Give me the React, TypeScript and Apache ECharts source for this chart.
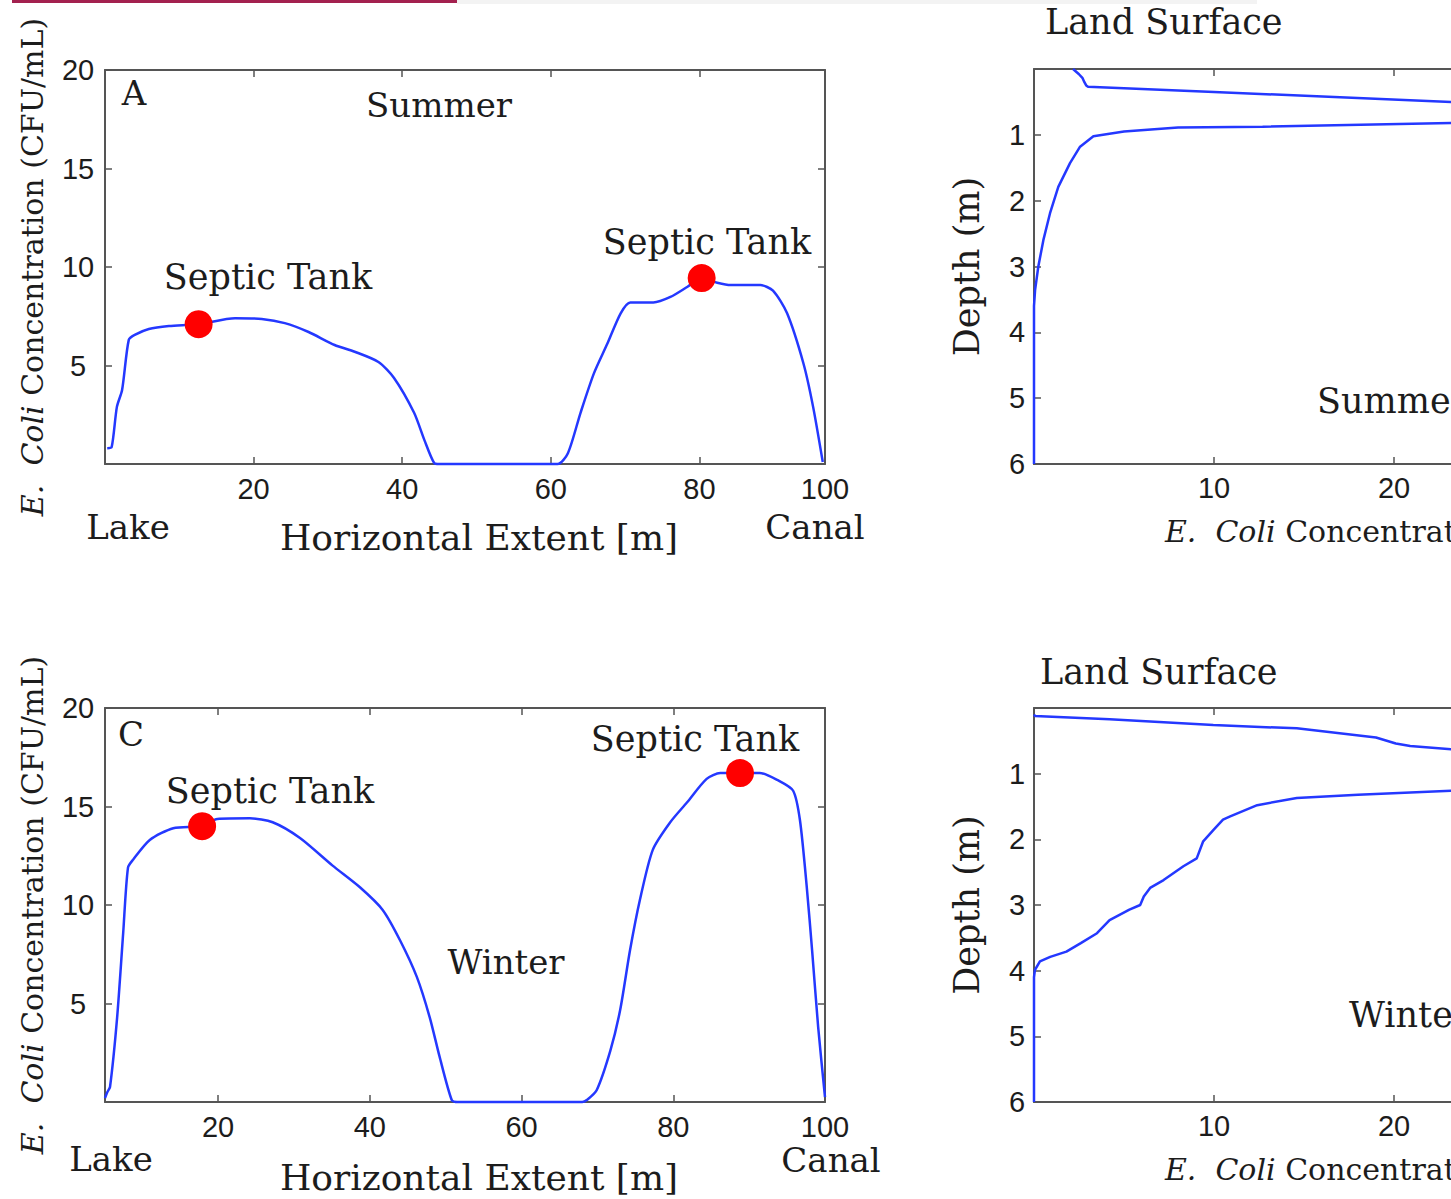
import React, { useEffect, useRef } from 'react';
import * as echarts from 'echarts';

// ---------- data ----------
// Panel A: summer, concentration along horizontal extent [x (m), CFU/mL]
const summerProfile: [number, number][] = [
  [0.3, 0.8], [0.9, 0.86], [1.6, 2.9], [2.3, 3.76], [3.2, 6.3], [4.0, 6.55], [5.9, 6.85],
  [8.6, 7.0], [12.6, 7.1], [17.5, 7.4], [21.1, 7.36], [24.2, 7.15], [27.4, 6.7], [30.9, 6.04],
  [33.6, 5.7], [36.8, 5.18], [38.9, 4.37], [41.6, 2.6], [43.0, 1.2], [44.3, 0.05], [45.0, 0],
  [60.9, 0], [62.3, 0.55], [64.0, 2.6], [65.8, 4.6], [67.6, 6.1], [69.4, 7.65], [70.7, 8.2],
  [73.8, 8.2], [76.1, 8.48], [78.4, 9.0], [80.3, 9.44], [82.4, 9.2], [84.2, 9.08], [88.2, 9.08],
  [89.9, 8.8], [91.8, 7.65], [94.0, 5.1], [95.3, 2.9], [96.6, 0.1],
];
const summerTanks: [number, number][] = [[12.6, 7.1], [80.3, 9.44]];

// Panel C: winter
const winterProfile: [number, number][] = [
  [5.1, 0.2], [5.4, 0.5], [5.76, 0.76], [6.7, 4.3], [7.5, 8.6], [8.13, 11.9], [8.8, 12.3],
  [11.0, 13.3], [14.1, 13.9], [17.9, 14.0], [19.9, 14.37], [24.2, 14.4], [27.2, 14.2],
  [30.8, 13.4], [35.1, 12.0], [38.7, 10.9], [41.7, 9.75], [44.0, 8.2], [46.2, 6.35], [47.9, 4.3],
  [49.2, 2.3], [50.8, 0.1], [51.5, 0], [68.0, 0], [68.6, 0.1], [69.9, 0.6], [71.7, 2.6],
  [73.0, 4.67], [74.3, 7.7], [75.6, 10.25], [77.3, 12.8], [79.6, 14.2], [81.8, 15.2],
  [84.4, 16.4], [86.2, 16.7], [88.8, 16.7], [91.4, 16.7], [93.7, 16.35], [95.8, 15.8],
  [96.7, 14.3], [97.6, 10.9], [98.3, 7.7], [99.1, 3.8], [100, 0.25],
];
const winterTanks: [number, number][] = [[17.9, 14.0], [88.8, 16.7]];

// Panels B / D: depth profiles [concentration, depth (m)]
const summerDepth: [number, number][] = [
  [2.17, 0], [2.5, 0.08], [2.7, 0.14], [2.8, 0.2], [2.9, 0.25], [3.0, 0.27], [10, 0.35],
  [23.2, 0.5], [30, 0.58], [34, 0.66], [30, 0.78], [23.2, 0.82], [12.7, 0.877], [8.0, 0.89],
  [5.0, 0.95], [3.3, 1.02], [2.56, 1.18], [2.0, 1.43], [1.35, 1.79], [0.89, 2.19], [0.52, 2.6],
  [0.24, 3.0], [0.06, 3.36], [0, 3.6], [0, 6],
];
const winterDepth: [number, number][] = [
  [0, 0.1], [0.05, 0.12], [4.2, 0.17], [9.96, 0.26], [14.6, 0.31], [19.0, 0.45], [20.1, 0.54],
  [20.9, 0.58], [23.2, 0.63], [30, 0.8], [36, 1.0], [30, 1.18], [23.2, 1.26], [18, 1.32],
  [14.6, 1.37], [12.4, 1.48], [10.9, 1.65], [10.5, 1.7], [9.96, 1.86], [9.4, 2.03], [9.04, 2.29],
  [8.3, 2.41], [7.2, 2.62], [6.45, 2.74], [6.1, 2.87], [5.9, 3.0], [5.3, 3.07], [4.2, 3.23],
  [3.5, 3.43], [2.6, 3.58], [1.8, 3.71], [0.9, 3.79], [0.33, 3.86], [0.05, 3.99], [0, 4.1], [0, 6],
];

// tick values / labels
const xTicksA = [20, 40, 60, 80, 96.9];
const xLabelsA = ['20', '40', '60', '80', '100'];
const xTicksC = [20, 40, 60, 80, 100];
const xLabelsC = ['20', '40', '60', '80', '100'];

// ---------- styles ----------
const SANS = '"Liberation Sans", Arial, Helvetica, sans-serif';
const SERIF = '"DejaVu Serif", serif';
const AXIS = '#555555';
const INK = '#1c1c1c';
const BLUE = '#2438ff';
const RED = '#ff0000';

const axisLine = { show: true, onZero: false, lineStyle: { color: AXIS, width: 2 } };
const tickStyle = { color: AXIS, width: 1.5 };
const tickLabel = { fontFamily: SANS, fontSize: 29, color: INK };
const richName = {
  fontFamily: SERIF,
  fontSize: 30,
  color: INK,
  rich: { i: { fontFamily: SERIF, fontSize: 30, fontStyle: 'italic', color: INK } },
};

function horizX(grid: number, min: number, max: number, ticks: number[], labels: string[], gap: number) {
  return [
    {
      type: 'value', gridIndex: grid, position: 'bottom', min, max,
      axisLine, splitLine: { show: false },
      axisTick: { show: true, inside: true, length: 7, customValues: ticks, lineStyle: tickStyle },
      axisLabel: {
        ...tickLabel, margin: 10, customValues: ticks,
        formatter: (v: number) => { const i = ticks.indexOf(v); return i >= 0 ? labels[i] : ''; },
      },
      name: 'Horizontal Extent [m]', nameLocation: 'middle', nameGap: gap,
      nameTextStyle: { fontFamily: SERIF, fontSize: 36, color: INK, padding: [0, 0, 0, 28] },
    },
    {
      type: 'value', gridIndex: grid, position: 'top', min, max,
      axisLine, splitLine: { show: false },
      axisTick: { show: true, inside: true, length: 7, customValues: ticks, lineStyle: tickStyle },
      axisLabel: { show: false },
    },
  ];
}

function concY(grid: number) {
  return [
    {
      type: 'value', gridIndex: grid, position: 'left', min: 0, max: 20, interval: 5,
      axisLine, splitLine: { show: false },
      axisTick: { show: true, inside: true, length: 7, lineStyle: tickStyle },
      axisLabel: { ...tickLabel, align: 'center', margin: 27, showMinLabel: false },
      name: '{i|E.  Coli} Concentration (CFU/mL)', nameLocation: 'middle', nameGap: 58,
      nameTextStyle: richName,
    },
    {
      type: 'value', gridIndex: grid, position: 'right', min: 0, max: 20, interval: 5,
      axisLine, splitLine: { show: false },
      axisTick: { show: true, inside: true, length: 7, lineStyle: tickStyle },
      axisLabel: { show: false },
    },
  ];
}

function depthX(grid: number) {
  return [
    {
      type: 'value', gridIndex: grid, position: 'bottom', min: 0, max: 40, interval: 10,
      axisLine, splitLine: { show: false },
      axisTick: { show: true, inside: true, length: 7, lineStyle: tickStyle },
      axisLabel: { ...tickLabel, margin: 9, showMinLabel: false },
      name: '{i|E.  Coli} Concentration (CFU/mL)', nameLocation: 'middle', nameGap: 52,
      nameTextStyle: { ...richName, padding: [0, 0, 0, 40] },
    },
    {
      type: 'value', gridIndex: grid, position: 'top', min: 0, max: 40, interval: 10,
      axisLine, splitLine: { show: false },
      axisTick: { show: true, inside: true, length: 7, lineStyle: tickStyle },
      axisLabel: { show: false },
    },
  ];
}

function depthY(grid: number) {
  return [
    {
      type: 'value', gridIndex: grid, position: 'left', min: 0, max: 6, interval: 1, inverse: true,
      axisLine, splitLine: { show: false },
      axisTick: { show: true, inside: true, length: 7, lineStyle: tickStyle },
      axisLabel: { ...tickLabel, align: 'center', margin: 17, showMinLabel: false },
      name: 'Depth (m)', nameLocation: 'middle', nameGap: 50,
      nameTextStyle: { fontFamily: SERIF, fontSize: 35, color: INK },
    },
    {
      type: 'value', gridIndex: grid, position: 'right', min: 0, max: 6, interval: 1, inverse: true,
      axisLine, splitLine: { show: false },
      axisTick: { show: true, inside: true, length: 7, lineStyle: tickStyle },
      axisLabel: { show: false },
    },
  ];
}

function label(text: string, x: number, y: number, align = 'center', size = 34) {
  return {
    type: 'text', x, y, z: 50,
    style: { text, fontFamily: SERIF, fontSize: size, fill: INK, align, verticalAlign: 'middle' },
  };
}

function lineSeries(data: [number, number][], axis: number, smooth: number | false) {
  return {
    type: 'line', xAxisIndex: axis, yAxisIndex: axis, data, showSymbol: false, symbol: 'none',
    clip: false, z: 3, silent: true, smooth,
    lineStyle: { color: BLUE, width: 2.5 },
  };
}

function tankSeries(data: [number, number][], axis: number) {
  return {
    type: 'scatter', xAxisIndex: axis, yAxisIndex: axis, data, symbol: 'circle', symbolSize: 28,
    itemStyle: { color: RED, opacity: 1 }, z: 5, silent: true,
  };
}

const gridBase = { containLabel: false, outerBoundsMode: 'none' };

const option: any = {
  animation: false,
  backgroundColor: '#ffffff',
  textStyle: { fontFamily: SERIF },
  grid: [
    { ...gridBase, left: 105, top: 70, width: 720, height: 394 },
    { ...gridBase, left: 1034, top: 69, width: 720, height: 395 },
    { ...gridBase, left: 105, top: 708, width: 720, height: 394 },
    { ...gridBase, left: 1034, top: 708, width: 720, height: 394 },
  ],
  xAxis: [
    ...horizX(0, 0, 96.9, xTicksA, xLabelsA, 55),
    ...depthX(1),
    ...horizX(2, 5.1, 100, xTicksC, xLabelsC, 57),
    ...depthX(3),
  ],
  yAxis: [...concY(0), ...depthY(1), ...concY(2), ...depthY(3)],
  series: [
    lineSeries(summerProfile, 0, 0.25),
    tankSeries(summerTanks, 0),
    lineSeries(summerDepth, 2, false),
    lineSeries(winterProfile, 4, 0.25),
    tankSeries(winterTanks, 4),
    lineSeries(winterDepth, 6, false),
  ],
  graphic: [
    { type: 'rect', shape: { x: 457, y: 0, width: 800, height: 4 }, style: { fill: '#f3f3f3' } },
    { type: 'rect', shape: { x: 12, y: 0, width: 445, height: 3 }, style: { fill: '#a3214f' } },
    // Panel A
    label('A', 134, 93),
    label('Summer', 439, 105),
    label('Septic Tank', 268, 277, 'center', 35),
    label('Septic Tank', 707, 242, 'center', 35),
    label('Lake', 128, 527),
    label('Canal', 815, 527),
    // Panel B
    label('Land Surface', 1045, 22, 'left', 35),
    label('Summer', 1317, 401, 'left', 35),
    // Panel C
    label('C', 131, 734),
    label('Septic Tank', 270, 791, 'center', 35),
    label('Septic Tank', 695, 739, 'center', 35),
    label('Winter', 506, 962),
    label('Lake', 111, 1159),
    label('Canal', 831, 1160),
    // Panel D
    label('Land Surface', 1040, 672, 'left', 35),
    label('Winter', 1349, 1015, 'left', 35),
  ],
};

export default function App() {
  const ref = useRef<HTMLDivElement>(null);
  useEffect(() => {
    document.body.style.margin = '0';
    const chart = echarts.init(ref.current!, null, { renderer: 'svg', width: 1451, height: 1199 });
    chart.setOption(option);
    return () => chart.dispose();
  }, []);
  return (
    <div
      ref={ref}
      style={{ position: 'fixed', left: 0, top: 0, width: 1451, height: 1199, overflow: 'hidden', background: '#fff' }}
    />
  );
}
